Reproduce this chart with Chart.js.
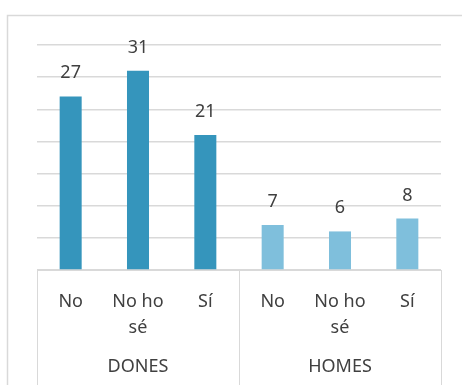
<!DOCTYPE html>
<html>
<head>
<meta charset="utf-8">
<script src="https://cdn.jsdelivr.net/npm/chart.js@4.4.1/dist/chart.umd.min.js"></script>
<style>
  html, body { margin: 0; padding: 0; background: #fff; overflow: hidden; }
  #wrap { position: relative; width: 462px; height: 385px; }
</style>
</head>
<body>
<div id="wrap"><canvas id="chart"></canvas></div>
<script>
// data
const categories = [["No"], ["No ho", "sé"], ["Sí"], ["No"], ["No ho", "sé"], ["Sí"]];
const groups = ["DONES", "HOMES"];
const values = [27, 31, 21, 7, 6, 8];
const yTicks = [0, 5, 10, 15, 20, 25, 30, 35];

const GROUP_SIZE = 3;
const DARK = "#3595bc";
const LIGHT = "#7fbfdc";
const TEXT = "#404040";
const LINE = "#d9d9d9";
const FONT = "'Noto Sans', sans-serif";

Chart.defaults.font.family = FONT;
Chart.defaults.color = TEXT;

// frame, value labels, group separators and group names
const extras = {
  id: "extras",
  beforeDraw(chart) {
    const ctx = chart.ctx;
    ctx.save();
    ctx.strokeStyle = LINE;
    ctx.lineWidth = 1.5;
    ctx.beginPath();
    ctx.moveTo(7.5, chart.height);
    ctx.lineTo(7.5, 15.5);
    ctx.lineTo(chart.width, 15.5);
    ctx.stroke();
    ctx.restore();
  },
  afterDraw(chart) {
    const ctx = chart.ctx;
    const x = chart.scales.x;
    const area = chart.chartArea;
    ctx.save();

    // values above bars
    ctx.font = "18px " + FONT;
    ctx.fillStyle = TEXT;
    ctx.textAlign = "center";
    ctx.textBaseline = "alphabetic";
    chart.getDatasetMeta(0).data.forEach((bar, i) => {
      ctx.fillText(String(values[i]), bar.x, bar.y - 18);
    });

    // separators between groups
    ctx.strokeStyle = LINE;
    ctx.lineWidth = 1;
    const seps = [x.left];
    for (let g = 1; g < groups.length; g++) {
      const i = g * GROUP_SIZE;
      seps.push(Math.round((x.getPixelForValue(i - 1) + x.getPixelForValue(i)) / 2));
    }
    seps.push(x.right);
    seps.forEach(p => {
      ctx.beginPath();
      ctx.moveTo(Math.round(p) + 0.5, area.bottom);
      ctx.lineTo(Math.round(p) + 0.5, chart.height);
      ctx.stroke();
    });

    // group names
    ctx.textBaseline = "alphabetic";
    groups.forEach((name, g) => {
      const cx = (seps[g] + seps[g + 1]) / 2;
      ctx.fillText(name, cx, 371.5);
    });
    ctx.restore();
  }
};

new Chart(document.getElementById("chart"), {
  type: "bar",
  data: {
    labels: categories,
    datasets: [{
      data: values,
      backgroundColor: values.map((v, i) => i < GROUP_SIZE ? DARK : LIGHT),
      categoryPercentage: 1,
      barPercentage: 0.327
    }]
  },
  options: {
    responsive: true,
    maintainAspectRatio: false,
    animation: false,
    layout: { padding: { left: 37, right: 21, top: 45, bottom: 0 } },
    plugins: { legend: { display: false }, tooltip: { enabled: false } },
    scales: {
      x: {
        grid: { display: false },
        border: { color: LINE, width: 1 },
        ticks: { padding: 11, maxRotation: 0, autoSkip: false, font: { size: 18, lineHeight: 1.43 }, color: TEXT },
        afterFit(scale) { scale.height = 115; }
      },
      y: {
        min: 0,
        max: 35,
        afterBuildTicks(scale) { scale.ticks = yTicks.map(v => ({ value: v })); },
        ticks: { display: false },
        grid: { color: LINE, lineWidth: 1.5, drawTicks: false },
        border: { display: false }
      }
    }
  },
  plugins: [extras]
});
</script>
</body>
</html>
